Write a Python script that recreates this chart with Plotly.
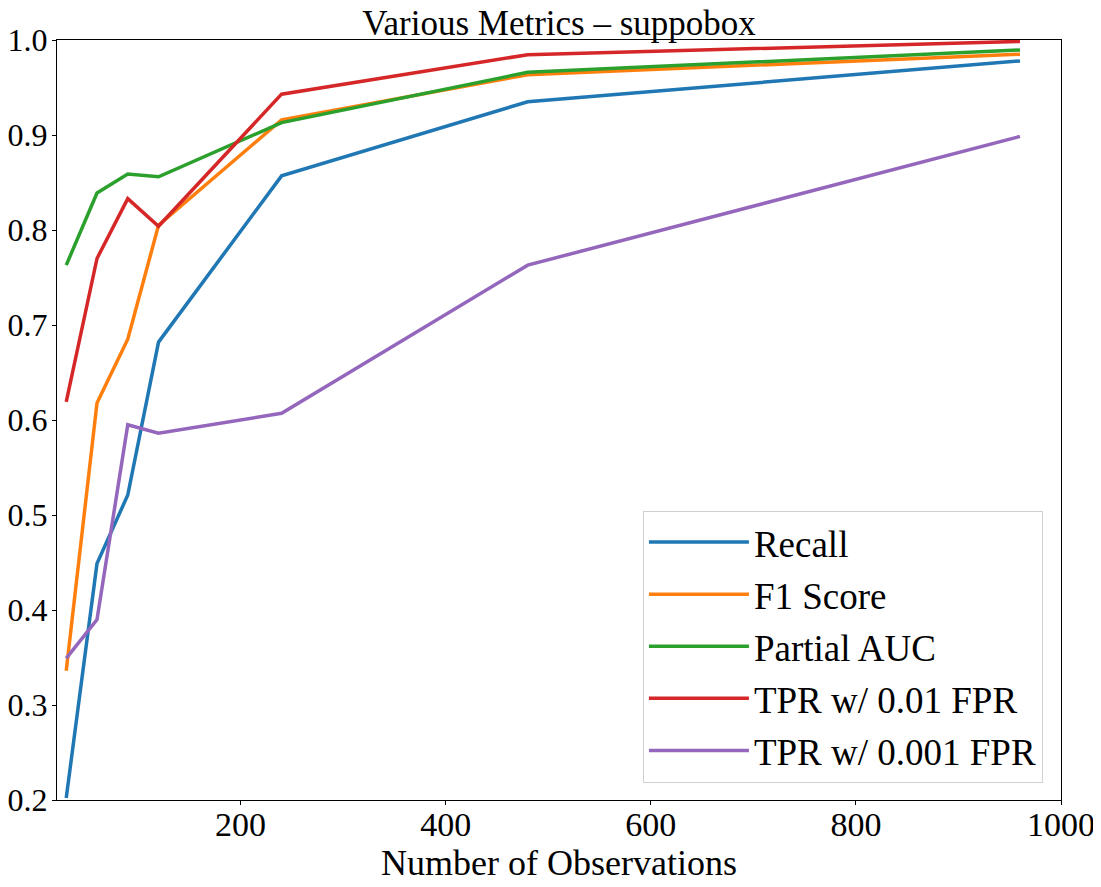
import plotly.graph_objects as go

observations = [30, 60, 90, 120, 240, 480, 960]
recall = [0.202, 0.449, 0.521, 0.682, 0.857, 0.935, 0.978]
f1_score = [0.336, 0.618, 0.685, 0.805, 0.916, 0.9635, 0.985]
partial_auc = [0.763, 0.839, 0.859, 0.856, 0.913, 0.966, 0.9895]
tpr_01 = [0.619, 0.770, 0.833, 0.804, 0.943, 0.9845, 0.9985]
tpr_001 = [0.349, 0.390, 0.595, 0.586, 0.607, 0.763, 0.8985]

series_names = ["Recall", "F1 Score", "Partial AUC", "TPR w/ 0.01 FPR", "TPR w/ 0.001 FPR"]
series_values = [recall, f1_score, partial_auc, tpr_01, tpr_001]
colors = ["#1f77b4", "#ff7f0e", "#2ca02c", "#d62728", "#9467bd"]

FONT = "Liberation Serif"

fig = go.Figure()
for name, vals, col in zip(series_names, series_values, colors):
    fig.add_trace(go.Scatter(
        x=observations, y=vals, mode="lines", name=name,
        line=dict(color=col, width=3.5), legendgroup=name,
    ))

# page body has an 8px offset; size the figure so it fills the 1101x887 window
fig.update_layout(
    width=1093, height=879,
    margin=dict(l=49, r=40, t=32, b=87),
    paper_bgcolor="white", plot_bgcolor="white",
    font=dict(family=FONT, size=34, color="black"),
    title=dict(text="Various Metrics – suppobox", x=0.5, xref="paper",
               y=1 - 15 / 879, yref="container", yanchor="middle",
               font=dict(family=FONT, size=35, color="black"),
               automargin=False),
    showlegend=True,
    legend=dict(
        x=0.982, y=0.023, xanchor="right", yanchor="bottom",
        bgcolor="white", bordercolor="#d0d0d0", borderwidth=1,
        font=dict(family=FONT, size=37, color="black"),
        traceorder="grouped", tracegroupgap=1, itemwidth=100,
    ),
)
fig.update_xaxes(
    range=[21, 1000], dtick=200, tick0=0,
    showgrid=False, zeroline=False, automargin=False,
    showline=True, linecolor="black", linewidth=1, mirror=True,
    ticks="outside", ticklen=4, tickcolor="black",
    tickfont=dict(family=FONT, size=34), ticklabelstandoff=-10,
    title=dict(text="Number of Observations", standoff=6,
               font=dict(family=FONT, size=36)),
)
fig.update_yaxes(
    range=[0.2, 1.0], dtick=0.1, tick0=0.2, tickformat=".1f",
    showgrid=False, zeroline=False, automargin=False,
    showline=True, linecolor="black", linewidth=1, mirror=True,
    ticks="outside", ticklen=4, tickcolor="black",
    tickfont=dict(family=FONT, size=32), ticklabelstandoff=-2,
)

fig.write_html("out.html")
